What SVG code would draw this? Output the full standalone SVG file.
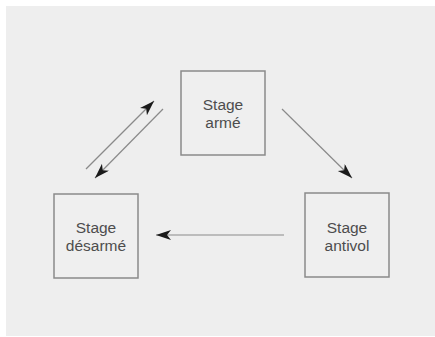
<svg xmlns="http://www.w3.org/2000/svg" width="435" height="337" viewBox="0 0 435 337">
<style>
.box{fill:#efefef;stroke:#8a8a8a;stroke-width:1.5}
.lbl{font-family:"Liberation Sans",Arial,sans-serif;font-size:15.5px;fill:#4d4d4d;text-anchor:middle}
.edge{stroke:#8a8a8a;stroke-width:1.2;fill:none;marker-end:url(#ah)}
</style>
<defs>
<marker id="ah" markerWidth="16" markerHeight="11" refX="15" refY="5" orient="auto" markerUnits="userSpaceOnUse">
<path d="M0,0 L15,5 L0,10 L4,5 Z" fill="#1a1a1a"/>
</marker>
</defs>
<rect x="0" y="0" width="435" height="337" fill="#ffffff"/>
<rect x="6" y="6" width="429" height="330" fill="#eeeeee"/>
<g id="node-arme">
<rect class="box" x="181" y="71" width="84" height="84"/>
<text class="lbl" x="223" y="110">Stage</text>
<text class="lbl" x="223" y="128">armé</text>
</g>
<g id="node-desarme">
<rect class="box" x="54" y="194" width="84" height="84"/>
<text class="lbl" x="96" y="233">Stage</text>
<text class="lbl" x="96" y="251">désarmé</text>
</g>
<g id="node-antivol">
<rect class="box" x="305" y="193" width="84" height="84"/>
<text class="lbl" x="347" y="233">Stage</text>
<text class="lbl" x="347" y="251">antivol</text>
</g>
<g id="connectors">
<line class="edge" x1="86" y1="169" x2="154" y2="101"/>
<line class="edge" x1="163" y1="109" x2="95" y2="178"/>
<line class="edge" x1="282" y1="109" x2="352" y2="178"/>
<line class="edge" x1="284" y1="235" x2="156" y2="235"/>
</g>
</svg>
